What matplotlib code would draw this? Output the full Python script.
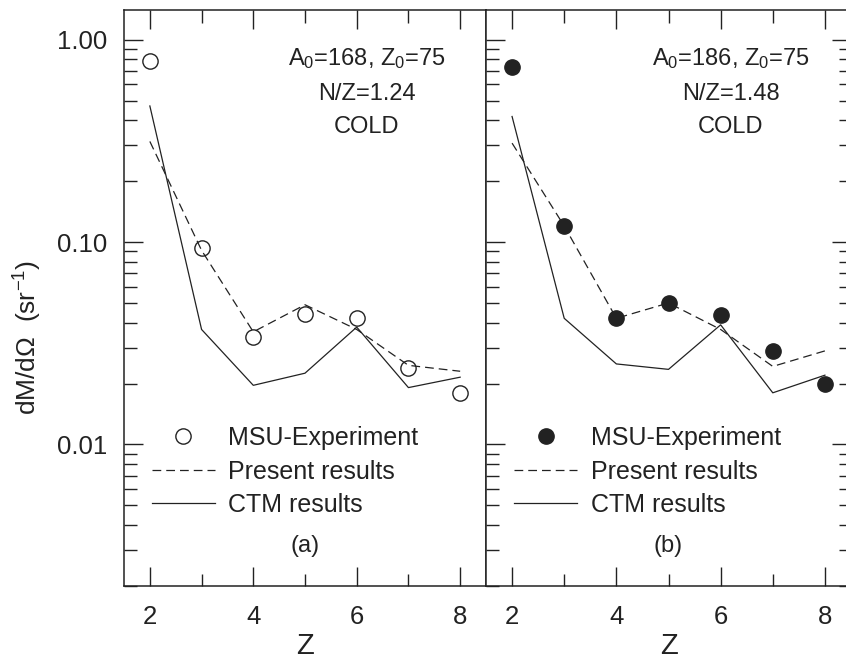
import numpy as np
import matplotlib
matplotlib.use("Agg")
from matplotlib import pyplot as plt
from matplotlib.ticker import LogLocator, NullFormatter, FixedLocator, FixedFormatter

plt.rcParams['font.family'] = ['Liberation Sans', 'DejaVu Sans']
plt.rcParams['mathtext.fontset'] = 'custom'
plt.rcParams['mathtext.rm'] = 'Liberation Sans'
plt.rcParams['mathtext.it'] = 'Liberation Sans'

# 데이터
Z = [2, 3, 4, 5, 6, 7, 8]

exp_a = [0.78, 0.093, 0.034, 0.044, 0.042, 0.024, 0.018]
present_a = [0.314, 0.091, 0.036, 0.049, 0.037, 0.0246, 0.023]
ctm_a = [0.47, 0.037, 0.0196, 0.0225, 0.038, 0.0191, 0.0215]

exp_b = [0.73, 0.12, 0.042, 0.050, 0.0435, 0.029, 0.020]
present_b = [0.308, 0.12, 0.042, 0.050, 0.037, 0.0243, 0.029]
ctm_b = [0.417, 0.042, 0.025, 0.0235, 0.039, 0.018, 0.022]

labels_a = ['A$_0$=168, Z$_0$=75', 'N/Z=1.24', 'COLD']
labels_b = ['A$_0$=186, Z$_0$=75', 'N/Z=1.48', 'COLD']
ytick_vals = [0.01, 0.1, 1.0]
ytick_txt = ['0.01', '0.10', '1.00']
xtick_vals = [2, 4, 6, 8]

W, H = 846, 663
fig = plt.figure(figsize=(W / 100, H / 100), dpi=100)
ax1 = fig.add_axes([124 / W, (H - 586) / H, 362 / W, 576 / H])
ax2 = fig.add_axes([486 / W, (H - 586) / H, 365 / W, 576 / H])

col = '#222222'
datas = [(ax1, exp_a, present_a, ctm_a, labels_a, '(a)', 'none'),
         (ax2, exp_b, present_b, ctm_b, labels_b, '(b)', col)]

for ax, ex, pr, ct, lab, tag, fc in datas:
    l1, = ax.plot(Z, ex, 'o', ms=11, mfc=fc, mec=col, mew=1.0, ls='none',
                  label='MSU-Experiment', zorder=3)
    l2, = ax.plot(Z, pr, color=col, lw=0.9, dashes=(7, 4), label='Present results')
    l3, = ax.plot(Z, ct, color=col, lw=0.9, label='CTM results')
    ax.set_yscale('log')
    ax.set_ylim(0.002, 1.4)
    ax.set_xlim(1.5, 8.5)
    ax.yaxis.set_major_locator(FixedLocator(ytick_vals))
    ax.yaxis.set_minor_locator(LogLocator(base=10, subs=np.arange(2, 10)))
    ax.yaxis.set_minor_formatter(NullFormatter())
    ax.xaxis.set_major_locator(FixedLocator(xtick_vals))
    ax.xaxis.set_minor_locator(FixedLocator([3, 5, 7]))
    ax.tick_params(which='both', direction='in', top=True, colors=col,
                   labelsize=18.5, width=1.0)
    ax.tick_params(which='major', length=14)
    ax.tick_params(which='minor', length=9)
    ax.tick_params(axis='x', pad=14)
    ax.tick_params(axis='y', pad=12)
    for s in ax.spines.values():
        s.set_color(col)
        s.set_linewidth(1.1)
    ax.set_xlabel('Z', fontsize=21, color=col, labelpad=2)
    ax.text(0.67, 0.915, lab[0], transform=ax.transAxes, ha='center', va='center',
            fontsize=17, color=col)
    ax.text(0.67, 0.855, lab[1], transform=ax.transAxes, ha='center', va='center',
            fontsize=17, color=col)
    ax.text(0.67, 0.797, lab[2], transform=ax.transAxes, ha='center', va='center',
            fontsize=17, color=col)
    ax.text(0.5, 0.07, tag, transform=ax.transAxes, ha='center', va='center',
            fontsize=17, color=col)
    leg = ax.legend(handles=[l1, l2, l3], loc='upper left', bbox_to_anchor=(0.05, 0.295),
                    frameon=False, fontsize=18, handlelength=2.5, handletextpad=0.55,
                    labelspacing=0.38, borderaxespad=0)
    for t in leg.get_texts():
        t.set_color(col)

ax1.yaxis.set_major_formatter(FixedFormatter(ytick_txt))
fig.text(28 / W, 1 - 337 / H, 'dM/d$\\Omega$  (sr$^{-1}$)', rotation=90,
         ha='center', va='center', fontsize=19, color=col)

ax2.tick_params(which='both', right=True, labelleft=False)

plt.savefig('out.png', dpi=100)
